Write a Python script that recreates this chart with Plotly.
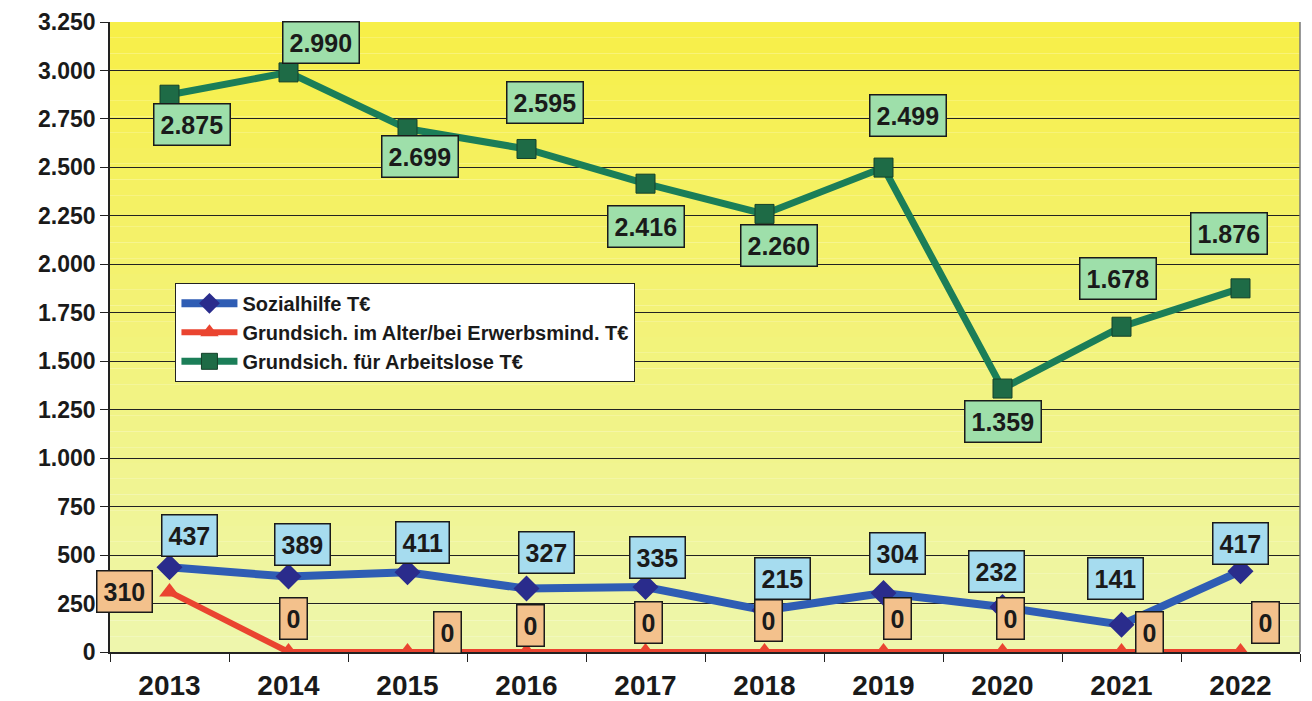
import plotly.graph_objects as go

years = ["2013", "2014", "2015", "2016", "2017", "2018", "2019", "2020", "2021", "2022"]
sozialhilfe = [437, 389, 411, 327, 335, 215, 304, 232, 141, 417]
grundsich_alter = [310, 0, 0, 0, 0, 0, 0, 0, 0, 0]
grundsich_arbeitslose = [2875, 2990, 2699, 2595, 2416, 2260, 2499, 1359, 1678, 1876]
y_ticks = [0, 250, 500, 750, 1000, 1250, 1500, 1750, 2000, 2250, 2500, 2750, 3000, 3250]

names = ["Sozialhilfe T€", "Grundsich. im Alter/bei Erwerbsmind. T€", "Grundsich. für Arbeitslose T€"]

FONT = "Liberation Sans, Arial, sans-serif"

def fmt(v):
    return f"{v:,}".replace(",", ".")

fig = go.Figure()

fig.add_trace(go.Scatter(
    x=years, y=sozialhilfe, name=names[0], mode="lines+markers",
    line=dict(color="#2F5DB4", width=8),
    marker=dict(symbol="diamond", size=20, color="#2A2C8C"),
))
fig.add_trace(go.Scatter(
    x=years, y=grundsich_alter, name=names[1], mode="lines+markers",
    line=dict(color="#EA4430", width=6),
    marker=dict(symbol="triangle-up", size=18, color="#EA4430"),
))
fig.add_trace(go.Scatter(
    x=years, y=grundsich_arbeitslose, name=names[2], mode="lines+markers",
    line=dict(color="#1B7E58", width=7),
    marker=dict(symbol="square", size=19, color="#1E6B46", line=dict(color="#15402A", width=1)),
))

# label offsets (px) per point
green_off = [(22, -30), (32, 30), (12, -28), (18, 46), (0, -43), (14, -32), (24, 52), (0, -33), (-4, 48), (-12, 55)]
blue_off = [(20, 32), (14, 32), (15, 30), (20, 36), (12, 30), (18, 32), (14, 40), (-6, 36), (-6, 46), (0, 28)]
orange_off = [(-45, 0), (5, 34), (40, 20), (4, 27), (3, 30), (4, 32), (14, 34), (8, 34), (28, 20), (25, 30)]

annotations = []
def add_labels(vals, offs, bg):
    for i, (v, (dx, dy)) in enumerate(zip(vals, offs)):
        annotations.append(dict(
            x=i, y=v, xref="x", yref="y", text="<b>" + fmt(v) + "</b>", showarrow=False,
            xshift=dx, yshift=dy, bgcolor=bg, bordercolor="#1a1a1a", borderwidth=1.5, borderpad=6,
            font=dict(family=FONT, size=25, color="#1a1a1a"),
        ))

add_labels(grundsich_arbeitslose, green_off, "#9EDFAA")
add_labels(sozialhilfe, blue_off, "#A6DCEF")
add_labels(grundsich_alter, orange_off, "#F3C18C")

# gradient background
shapes = []
n = 40
top = (247, 239, 72)
bot = (238, 246, 172)
for i in range(n):
    t = i / (n - 1)
    c = tuple(int(round(top[k] + (bot[k] - top[k]) * t)) for k in range(3))
    shapes.append(dict(
        type="rect", xref="x domain", yref="y domain",
        x0=0, x1=1, y1=1 - i / n, y0=1 - (i + 1) / n,
        fillcolor=f"rgb{c}", line=dict(width=0), layer="below",
    ))
shapes.append(dict(type="line", xref="x domain", yref="y domain", x0=1, x1=1, y0=0, y1=1,
                   line=dict(color="#777777", width=1.5)))

fig.update_layout(
    width=1312, height=701,
    margin=dict(l=102, r=20, t=14, b=57),
    paper_bgcolor="white", plot_bgcolor="rgba(0,0,0,0)",
    separators=",.",
    showlegend=True,
    legend=dict(
        x=0.055, y=0.586, xanchor="left", yanchor="top",
        bgcolor="white", bordercolor="#222222", borderwidth=1,
        font=dict(family=FONT, size=20, color="#1a1a1a", weight="bold"),
        tracegroupgap=0, itemwidth=56,
    ),
    annotations=annotations,
    shapes=shapes,
    xaxis=dict(
        type="category", categoryorder="array", categoryarray=years,
        automargin=False,
        showgrid=False, showline=True, linecolor="#222222", linewidth=1.5,
        ticks="outside", tickson="boundaries", ticklen=8, tickcolor="#222222",
        tickfont=dict(family=FONT, size=28, color="#1a1a1a", weight="bold"),
        ticklabelstandoff=8,
        range=[-0.5, 9.5], zeroline=False,
    ),
    yaxis=dict(
        range=[0, 3250], tickvals=y_ticks, tickformat=",d",
        automargin=False,
        showgrid=True, gridcolor="#222222", gridwidth=1,
        showline=True, linecolor="#222222", linewidth=1.5,
        ticks="outside", ticklen=8, tickcolor="#222222",
        tickfont=dict(family=FONT, size=23, color="#1a1a1a", weight="bold"),
        zeroline=False,
    ),
)

fig.write_html("out.html")
